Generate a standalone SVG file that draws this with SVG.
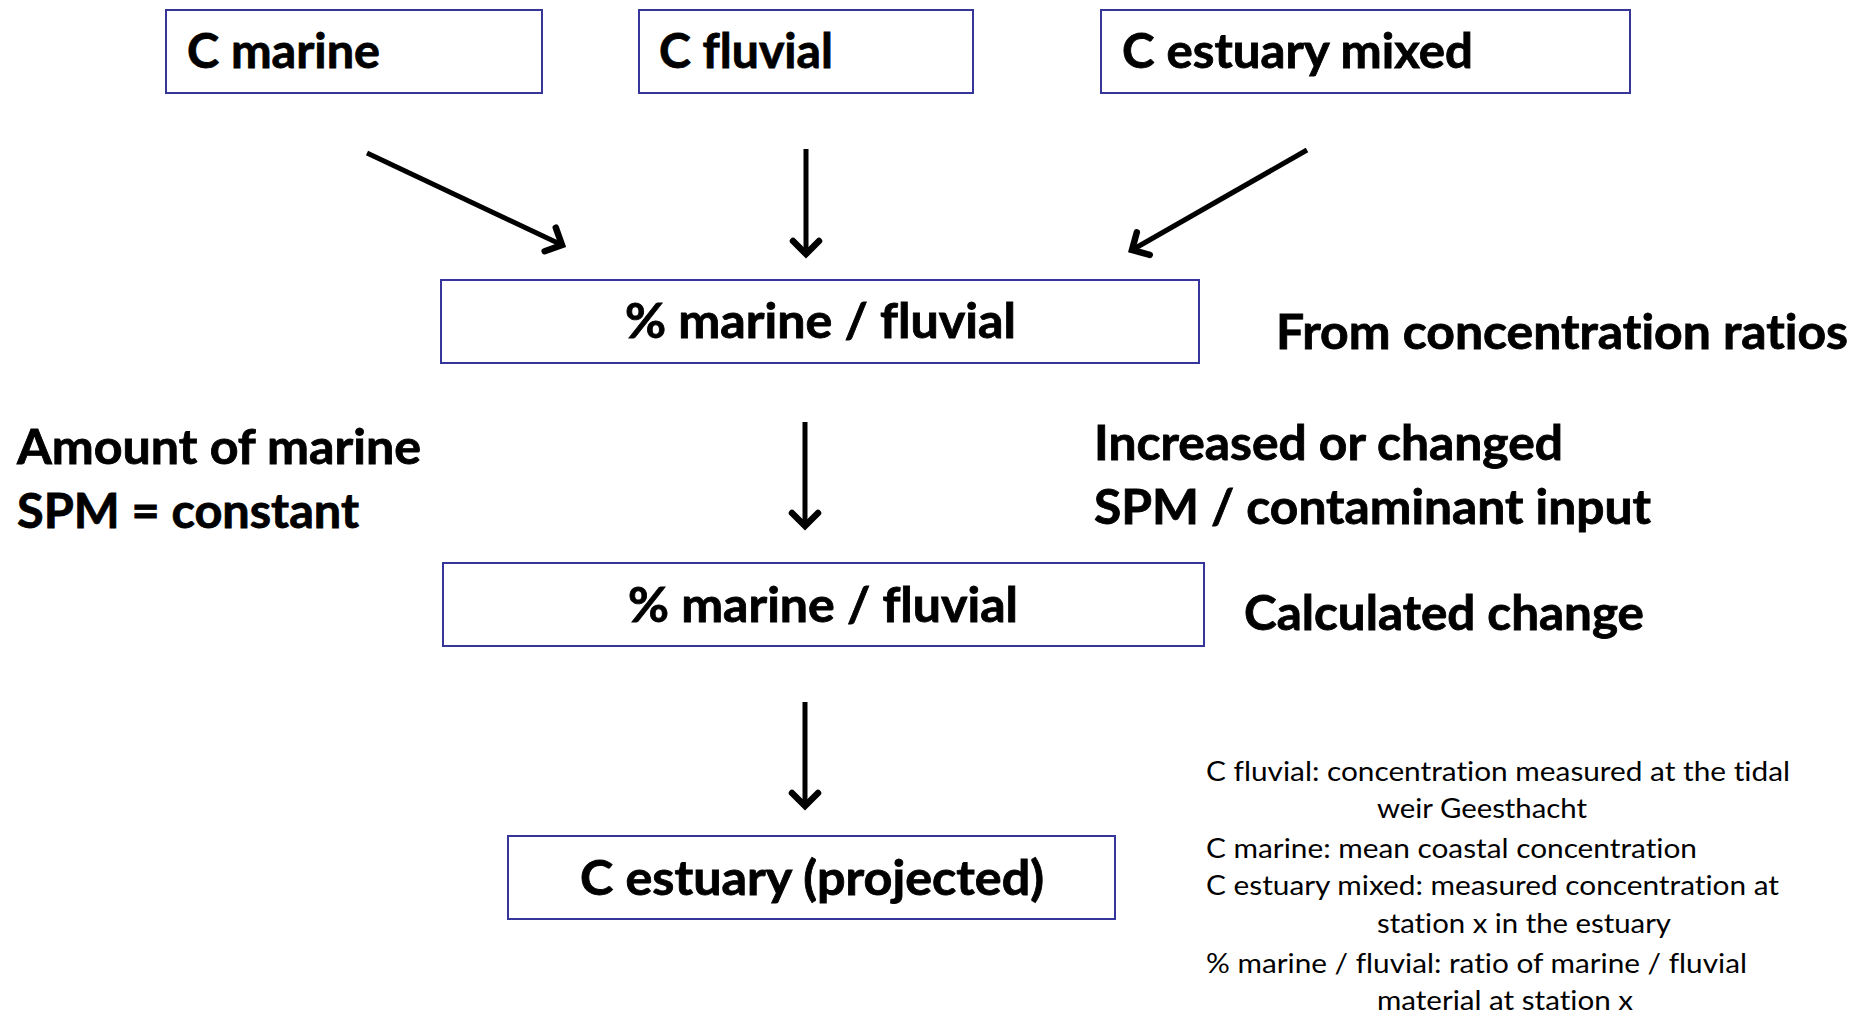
<svg xmlns="http://www.w3.org/2000/svg" width="1863" height="1014" viewBox="0 0 1863 1014">
<defs>
<style>
.box{fill:#ffffff;stroke:#35359a;stroke-width:2}
.big{font-family:Lato,"Noto Sans","Liberation Sans",sans-serif;font-weight:bold;font-size:47px;fill:#000;stroke:#000;stroke-width:0.8px;font-variant-ligatures:none}
.small{font-family:Lato,"Noto Sans","Liberation Sans",sans-serif;font-size:26px;fill:#000;font-variant-ligatures:none}
.arrow{stroke:#000;stroke-width:5;fill:none;marker-end:url(#ah)}
</style>
<marker id="ah" markerUnits="userSpaceOnUse" markerWidth="40" markerHeight="40" viewBox="-20 -20 40 40" refX="0" refY="0" orient="auto" overflow="visible">
<path d="M-13,-13 L0,0 L-13,13" fill="none" stroke="#000" stroke-width="6.5" stroke-linejoin="miter" stroke-linecap="round"/>
</marker>
</defs>
<rect width="1863" height="1014" fill="#ffffff"/>
<g id="connectors">
<line class="arrow" x1="367" y1="153" x2="562" y2="245"/>
<line class="arrow" x1="806" y1="149" x2="806" y2="254"/>
<line class="arrow" x1="1307" y1="150" x2="1132" y2="250"/>
<line class="arrow" x1="805" y1="422" x2="805" y2="526"/>
<line class="arrow" x1="805" y1="702" x2="805" y2="806"/>
</g>
<g id="c-marine">
<rect class="box" x="166" y="10" width="376" height="83"/>
<text class="big" x="187" y="68" textLength="193" lengthAdjust="spacingAndGlyphs">C marine</text>
</g>
<g id="c-fluvial">
<rect class="box" x="639" y="10" width="334" height="83"/>
<text class="big" x="659" y="68" textLength="174" lengthAdjust="spacingAndGlyphs">C fluvial</text>
</g>
<g id="c-estuary-mixed">
<rect class="box" x="1101" y="10" width="529" height="83"/>
<text class="big" x="1122" y="68" textLength="351" lengthAdjust="spacingAndGlyphs">C estuary mixed</text>
</g>
<g id="ratio-1">
<rect class="box" x="441" y="280" width="758" height="83"/>
<text class="big" x="625" y="338" textLength="391" lengthAdjust="spacingAndGlyphs">% marine / fluvial</text>
</g>
<g id="ratio-2">
<rect class="box" x="443" y="563" width="761" height="83"/>
<text class="big" x="628" y="622" textLength="390" lengthAdjust="spacingAndGlyphs">% marine / fluvial</text>
</g>
<g id="c-estuary-projected">
<rect class="box" x="508" y="836" width="607" height="83"/>
<text class="big" x="580" y="895" textLength="464" lengthAdjust="spacingAndGlyphs">C estuary (projected)</text>
</g>
<g id="labels">
<text class="big" x="1276" y="349" textLength="572" lengthAdjust="spacingAndGlyphs">From concentration ratios</text>
<text class="big" x="17" y="464" textLength="404" lengthAdjust="spacingAndGlyphs">Amount of marine</text>
<text class="big" x="17" y="528" textLength="342" lengthAdjust="spacingAndGlyphs">SPM = constant</text>
<text class="big" x="1094" y="460" textLength="469" lengthAdjust="spacingAndGlyphs">Increased or changed</text>
<text class="big" x="1094" y="524" textLength="557" lengthAdjust="spacingAndGlyphs">SPM / contaminant input</text>
<text class="big" x="1244" y="630" textLength="400" lengthAdjust="spacingAndGlyphs">Calculated change</text>
</g>
<g id="legend">
<text class="small" x="1206" y="781" textLength="584" lengthAdjust="spacingAndGlyphs">C fluvial: concentration measured at the tidal</text>
<text class="small" x="1377" y="818" textLength="210" lengthAdjust="spacingAndGlyphs">weir Geesthacht</text>
<text class="small" x="1206" y="858" textLength="491" lengthAdjust="spacingAndGlyphs">C marine: mean coastal concentration</text>
<text class="small" x="1206" y="895" textLength="573" lengthAdjust="spacingAndGlyphs">C estuary mixed: measured concentration at</text>
<text class="small" x="1377" y="933" textLength="294" lengthAdjust="spacingAndGlyphs">station x in the estuary</text>
<text class="small" x="1206" y="973" textLength="541" lengthAdjust="spacingAndGlyphs">% marine / fluvial: ratio of marine / fluvial</text>
<text class="small" x="1377" y="1010" textLength="256" lengthAdjust="spacingAndGlyphs">material at station x</text>
</g>
</svg>
